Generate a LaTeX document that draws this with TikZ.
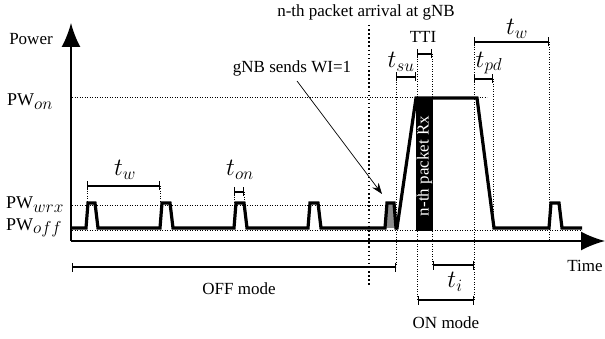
\documentclass[tikz,border=0pt]{standalone}
\usepackage{fontspec}
\setmainfont{Liberation Serif}
\usetikzlibrary{arrows.meta}
\newcommand{\pwlabel}[1]{{\fontsize{18}{20}\selectfont$\mathrm{PW}$}{\fontsize{24}{28}\selectfont$_{#1}$}}
\begin{document}
\begin{tikzpicture}[x=1pt,y=-1pt,
  lbl/.style={font=\fontsize{17}{20}\selectfont,inner sep=0pt},
  mlbl/.style={font=\fontsize{24}{28}\selectfont,inner sep=0pt},
  sig/.style={line width=3.2pt,line join=miter},
  axisln/.style={line width=1.7pt,-{Latex[length=24pt,width=19pt]}},
  dotl/.style={line width=0.8pt,dash pattern=on 0.8pt off 1.7pt},
  bigdot/.style={line width=1.5pt,dash pattern=on 1.5pt off 2.6pt},
  brk/.style={line width=1.2pt,{Bar[width=9pt,line width=1.2pt]}-{Bar[width=9pt,line width=1.2pt]}},
  pointer/.style={line width=0.7pt,-{Stealth[length=11pt,width=8pt]}}]
\useasboundingbox (0,0) rectangle (605,339);

% axes
\coordinate (O) at (71,241);
\coordinate (ytop) at (71,23);
\coordinate (xend) at (605,241);
\draw[axisln] (O) -- (ytop);
\draw[axisln] (O) -- (xend);

% level lines
\coordinate (onA) at (72,97);   \coordinate (onB) at (487,97);
\coordinate (wrxA) at (72,205); \coordinate (wrxB) at (388,205);
\coordinate (offA) at (72,230); \coordinate (offB) at (582,230);
\draw[dotl] (onA) -- (onB);
\draw[dotl] (wrxA) -- (wrxB);
\draw[dotl] (offA) -- (offB);

% axis labels
\node[lbl] (power) at (31,39) {Power};
\node[lbl,anchor=base west] (pwon) at (7,106) {\pwlabel{on}};
\node[lbl,anchor=base west] (pwwrx) at (6,209) {\pwlabel{wrx}};
\node[lbl,anchor=base west] (pwoff) at (6,230) {\pwlabel{off}};
\node[lbl] (time) at (585,266) {Time};

% packet reception block
\node[fill=black,minimum width=17pt,minimum height=134pt,inner sep=0pt] (rx) at (424.5,164) {};
\node[lbl,text=white,rotate=90] (rxtext) at (424.5,166) {n-th packet Rx};

% WI pulse fill
\fill[black!45] (385,228) -- (387,203) -- (395,203) -- (397,228) -- cycle;

% signal
\draw[sig] (72,228) -- (86,228) -- (88,203) -- (95,203) -- (98,228)
  -- (160,228) -- (162,203) -- (170,203) -- (173,228)
  -- (234,228) -- (236,203) -- (244,203) -- (247,228)
  -- (308,228) -- (310,203) -- (318,203) -- (321,228)
  -- (385,228) -- (387,203) -- (394,203) -- (396,228) -- (397,228)
  -- (416,98) -- (477,98) -- (494,228)
  -- (549,228) -- (551,203) -- (559,203) -- (562,228) -- (582,228);

% vertical dotted guides
\coordinate (arrT) at (369,25); \coordinate (arrB) at (369,285);
\draw[bigdot] (arrT) -- (arrB);
\coordinate (suL) at (396,77);  \coordinate (suLb) at (396,267);
\coordinate (onL) at (417,54);  \coordinate (onLb) at (417,300);
\coordinate (ttiR) at (432,54); \coordinate (ttiRb) at (432,265);
\coordinate (pdL) at (474,42);  \coordinate (pdLb) at (474,300);
\coordinate (pdR) at (493,79);  \coordinate (pdRb) at (493,228);
\coordinate (twR) at (549,42);  \coordinate (twRb) at (549,240);
\draw[dotl] (suL) -- (suLb);
\draw[dotl] (onL) -- (onLb);
\draw[dotl] (ttiR) -- (ttiRb);
\draw[dotl] (pdL) -- (pdLb);
\draw[dotl] (pdR) -- (pdRb);
\draw[dotl] (twR) -- (twRb);
\coordinate (w1a) at (87,186);  \coordinate (w1b) at (160,186);
\coordinate (w1at) at (87,203); \coordinate (w1bt) at (160,203);
\coordinate (ona) at (234,192); \coordinate (onb) at (244,192);
\coordinate (onat) at (234,203); \coordinate (onbt) at (244,203);
\draw[dotl] (w1a) -- (w1at);
\draw[dotl] (w1b) -- (w1bt);
\draw[dotl] (ona) -- (onat);
\draw[dotl] (onb) -- (onbt);

% brackets
\draw[brk] (w1a) -- (w1b);
\draw[brk] (ona) -- (onb);
\coordinate (offL) at (72,267);
\draw[brk] (offL) -- (suLb);
\coordinate (suR) at (416,77);
\draw[brk] (suL) -- (suR);
\draw[brk] (onL) -- (ttiR);
\coordinate (pdL2) at (474,79);
\draw[brk] (pdL2) -- (pdR);
\draw[brk] (pdL) -- (twR);
\coordinate (tiL) at (433,265); \coordinate (tiR) at (474,265);
\draw[brk] (tiL) -- (tiR);
\coordinate (onmL) at (418,300); \coordinate (onmR) at (474,300);
\draw[brk] (onmL) -- (onmR);

% labels
\node[lbl] (arrival) at (366,12) {n-th packet arrival at gNB};
\node[lbl] (wi) at (292,68) {gNB sends WI=1};
\node[lbl] (tti) at (423,37) {TTI};
\node[mlbl] (tw2) at (517,29) {$t_w$};
\node[mlbl] (tsu) at (401,62) {$t_{su}$};
\node[mlbl] (tpd) at (489,63) {$t_{pd}$};
\node[mlbl] (tw1) at (125,170) {$t_w$};
\node[mlbl] (ton) at (240,170) {$t_{on}$};
\node[mlbl] (ti) at (455,282) {$t_i$};
\node[lbl] (offm) at (239,289) {OFF mode};
\node[lbl] (onm) at (446,323) {ON mode};

% pointer
\coordinate (wiStart) at (297,81);
\coordinate (wiTip) at (382,194);
\draw[pointer] (wiStart) -- (wiTip);
\end{tikzpicture}
\end{document}
